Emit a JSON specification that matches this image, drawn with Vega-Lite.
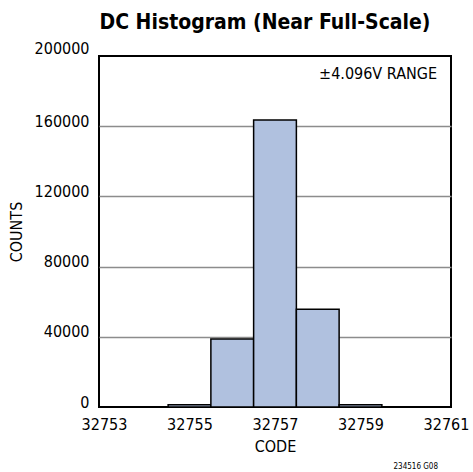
{
  "$schema": "https://vega.github.io/schema/vega-lite/v6.json",
  "width": 352,
  "height": 351,
  "autosize": "none",
  "padding": {"left": 99, "top": 56, "right": 22, "bottom": 65},
  "background": "white",
  "config": {
    "font": "DejaVu Sans Condensed, Roboto, sans-serif",
    "view": {"stroke": "black", "strokeWidth": 2},
    "axis": {"labelFont": "DejaVu Sans Condensed, Roboto, sans-serif", "titleFont": "DejaVu Sans Condensed, Roboto, sans-serif", "labelColor": "black", "titleColor": "black", "titleFontWeight": "normal"}
  },
  "title": {
    "text": "DC Histogram (Near Full-Scale)",
    "font": "DejaVu Sans Condensed, Roboto, sans-serif",
    "fontSize": 21,
    "fontWeight": "bold",
    "color": "black",
    "anchor": "middle",
    "dx": -10,
    "offset": 7
  },
  "datasets": {
    "bins": [
      {"bin_start": 32754.5, "bin_end": 32755.5, "count": 1300},
      {"bin_start": 32755.5, "bin_end": 32756.5, "count": 38750},
      {"bin_start": 32756.5, "bin_end": 32757.5, "count": 163500},
      {"bin_start": 32757.5, "bin_end": 32758.5, "count": 55700},
      {"bin_start": 32758.5, "bin_end": 32759.5, "count": 1300}
    ],
    "notes": [
      {"code": 32761, "counts": 200000, "label": "±4.096V RANGE"}
    ]
  },
  "layer": [
    {
      "data": {"name": "bins"},
      "mark": {"type": "bar", "fill": "#b0c1df", "stroke": "black", "strokeWidth": 1.5, "orient": "vertical"},
      "encoding": {
        "x": {
          "field": "bin_start",
          "type": "quantitative",
          "scale": {"domain": [32753, 32761], "nice": false, "zero": false},
          "axis": {
            "title": "CODE",
            "values": [32753, 32755, 32757, 32759, 32761],
            "format": "d",
            "grid": false,
            "ticks": false,
            "domain": false,
            "labelFontSize": 16,
            "labelPadding": 9,
            "titleFontSize": 16,
            "titlePadding": 6
          }
        },
        "x2": {"field": "bin_end"},
        "y": {
          "field": "count",
          "type": "quantitative",
          "scale": {"domain": [0, 200000], "nice": false},
          "axis": {
            "title": "COUNTS",
            "values": [0, 40000, 80000, 120000, 160000, 200000],
            "format": "d",
            "grid": true,
            "gridColor": {"condition": {"test": "datum.value == 0 || datum.value == 200000", "value": "transparent"}, "value": "#8c8c8c"},
            "gridWidth": 1.5,
            "ticks": false,
            "domain": false,
            "labelFontSize": 16,
            "labelPadding": 10,
            "labelBaseline": {"condition": {"test": "datum.value == 200000", "value": "bottom"}, "value": {"expr": "datum.value == 0 ? 'alphabetic' : 'middle'"}},
            "titleFontSize": 16,
            "titlePadding": 10
          }
        },
        "y2": {"datum": 0}
      }
    },
    {
      "data": {"name": "notes"},
      "mark": {"type": "text", "align": "right", "baseline": "top", "dx": -9, "dy": 10, "fontSize": 16, "font": "DejaVu Sans Condensed, Roboto, sans-serif", "color": "black"},
      "encoding": {
        "x": {"field": "code", "type": "quantitative"},
        "y": {"field": "counts", "type": "quantitative"},
        "text": {"field": "label"}
      }
    },
    {
      "data": {"values": [{"code": 32761, "counts": 0, "label": "234516 G08"}]},
      "mark": {"type": "text", "align": "right", "baseline": "alphabetic", "dx": -8, "dy": 62, "fontSize": 8, "font": "DejaVu Sans Condensed, Roboto, sans-serif", "color": "black"},
      "encoding": {
        "x": {"field": "code", "type": "quantitative"},
        "y": {"field": "counts", "type": "quantitative"},
        "text": {"field": "label"}
      }
    }
  ]
}
